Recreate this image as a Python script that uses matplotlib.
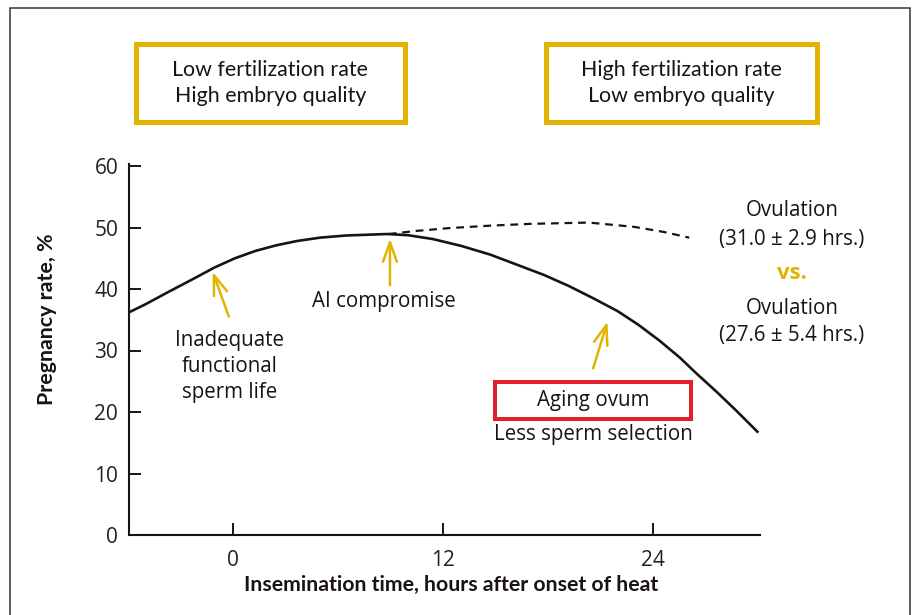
import matplotlib.pyplot as plt
from matplotlib.patches import Rectangle

# curve (hours, pregnancy rate %)
hours = [-5.97, -5.07, -3.66, -2.25, -1.07, 0.1, 1.28, 2.46, 3.64, 4.97, 6.46,
         8.82, 10.0, 11.41, 13.06, 14.7, 16.1, 17.77, 19.2, 20.6, 22.0, 23.18,
         24.4, 25.54, 26.5, 27.66, 28.8, 30.0]
rate = [36.2, 37.45, 39.6, 41.7, 43.5, 45.0, 46.2, 47.1, 47.8, 48.35, 48.7,
        48.94, 48.75, 48.13, 47.0, 45.6, 44.1, 42.3, 40.5, 38.5, 36.4, 34.2,
        31.6, 28.9, 26.3, 23.3, 20.2, 16.8]
hours_late = [8.9, 10.5, 12.35, 14.7, 17.06, 20.36, 22.95, 24.6, 26.1]
rate_late = [48.94, 49.45, 49.9, 50.3, 50.6, 50.8, 50.1, 49.3, 48.35]

xticks = [0, 12, 24]
yticks = [0, 10, 20, 30, 40, 50, 60]

gold = '#E2B400'
red = '#E0202E'
ink = '#1a1411'

W, H = 913, 615
fig = plt.figure(figsize=(W / 100, H / 100), dpi=100)
plt.rcParams['font.family'] = ['Open Sans', 'DejaVu Sans']


def fx(px):
    return px / W


def fy(py):
    return 1 - py / H


ax = fig.add_axes([fx(129.3), fy(535), fx(760) - fx(129.3), fy(166) - fy(535)])
ax.plot(hours, rate, color=ink, lw=1.9, solid_joinstyle='round')
ax.plot(hours_late, rate_late, color=ink, lw=1.6, dashes=(3.5, 2.6))

ax.set_xlim(-5.95, 30.15)
ax.set_ylim(0, 60)
ax.set_xticks(xticks)
ax.set_yticks(yticks)
for s in ['top', 'right']:
    ax.spines[s].set_visible(False)
for s in ['left', 'bottom']:
    ax.spines[s].set_linewidth(1.5)
    ax.spines[s].set_color(ink)
ax.spines['left'].set_bounds(0, 60.3)
ax.tick_params(direction='in', length=8.5, width=1.4, color=ink, labelsize=15,
               labelcolor='#222222')
ax.tick_params(axis='x', pad=11)
ax.tick_params(axis='y', pad=8)

ax.set_xlabel('Insemination time, hours after onset of heat', family='Lato',
              fontweight='bold', fontsize=15.3, color=ink)
ax.xaxis.set_label_coords(0.511, -0.1355)
ax.xaxis.label.set_va('center')
ax.set_ylabel('Pregnancy rate, %', family='Lato', fontweight='bold',
              fontsize=15.4, color=ink)
ax.yaxis.set_label_coords(-0.131, 0.585)
ax.yaxis.label.set_va('center')

# arrows
arrows = [((-0.25, 35.5), (-1.18, 42.8)),
          ((8.97, 40.6), (8.97, 48.2)),
          ((20.6, 27.1), (21.42, 34.7))]
for tail, head in arrows:
    ax.annotate('', xy=head, xytext=tail,
                arrowprops=dict(arrowstyle='->,head_length=1.4,head_width=0.5',
                                color=gold, lw=1.8, shrinkA=0, shrinkB=0))

txt = dict(ha='center', va='center', fontsize=14.8, color=ink)
ax.text(-0.19, 27.4, 'Inadequate\nfunctional\nsperm life', linespacing=1.3, **txt)
ax.text(8.63, 37.9, 'AI compromise', **txt)
ax.text(20.6, 21.95, 'Aging ovum', **txt)
ax.text(20.6, 16.3, 'Less sperm selection', **txt)
ax.add_patch(Rectangle((14.98, 18.81), 11.2, 6.12, fill=False, ec=red, lw=2.9,
                       clip_on=False))

ax.text(31.98, 52.7, 'Ovulation', clip_on=False, **txt)
ax.text(31.98, 48.1, '(31.0 ± 2.9 hrs.)', clip_on=False, **txt)
ax.text(31.98, 42.6, 'vs.', clip_on=False, ha='center', va='center',
        fontsize=16, fontweight='bold', color=gold)
ax.text(31.98, 36.75, 'Ovulation', clip_on=False, **txt)
ax.text(31.98, 32.5, '(27.6 ± 5.4 hrs.)', clip_on=False, **txt)

# yellow boxes on top
for x0, x1, lines in [(136, 405, ('Low fertilization rate', 'High embryo quality')),
                      (546, 817, ('High fertilization rate', 'Low embryo quality'))]:
    fig.patches.append(Rectangle((fx(x0), fy(122)), fx(x1) - fx(x0), fy(44) - fy(122),
                                 transform=fig.transFigure, fill=False, ec=gold, lw=3.6))
    cx = fx((x0 + x1) / 2)
    fig.text(cx, fy(70), lines[0], family='Lato', fontsize=15.4, ha='center',
             va='center', color=ink)
    fig.text(cx, fy(96), lines[1], family='Lato', fontsize=15.4, ha='center',
             va='center', color=ink)

# outer frame (open at the bottom)
fig.patches.append(Rectangle((fx(10), fy(700)), fx(909.7) - fx(10), fy(8) - fy(700),
                             transform=fig.transFigure, fill=False, ec='#333333',
                             lw=1.1))

fig.savefig('out.png', dpi=100)
